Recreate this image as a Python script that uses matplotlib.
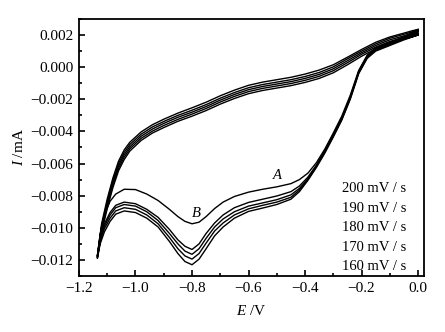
import matplotlib
matplotlib.use("Agg")
import matplotlib.pyplot as plt
from matplotlib.ticker import MultipleLocator, FuncFormatter

plt.rcParams['font.family'] = ['Liberation Serif', 'DejaVu Serif']
plt.rcParams['mathtext.fontset'] = 'custom'
plt.rcParams['mathtext.rm'] = 'Liberation Serif'
plt.rcParams['mathtext.it'] = 'Liberation Serif:italic'

# ---- data (current in 1e-3 mA) ----
rates = ["200 mV / s", "190 mV / s", "180 mV / s", "170 mV / s", "160 mV / s"]

# cathodic (forward) sweep, 0 -> -1.135 V
xc = [0.0, -0.05, -0.10, -0.15, -0.18, -0.21, -0.24, -0.27, -0.30, -0.33, -0.36, -0.39,
      -0.42, -0.45, -0.50, -0.55, -0.60, -0.65, -0.69, -0.72, -0.75, -0.775, -0.80, -0.825,
      -0.85, -0.88, -0.92, -0.96, -1.00, -1.04, -1.07, -1.09, -1.11, -1.125, -1.135]
c200 = [2.35, 1.9, 1.55, 1.2, 0.75, -0.2, -1.75, -3.05, -4.1, -5.1, -5.95, -6.6, -7.0, -7.25,
        -7.45, -7.6, -7.78, -8.05, -8.4, -8.8, -9.3, -9.65, -9.75, -9.6, -9.3, -8.85, -8.3,
        -7.9, -7.62, -7.6, -7.9, -8.35, -9.2, -10.4, -11.75]
c190 = [2.3, 1.85, 1.5, 1.15, 0.7, -0.25, -1.85, -3.15, -4.2, -5.2, -6.1, -6.85, -7.4, -7.75,
        -8.02, -8.22, -8.42, -8.75, -9.2, -9.7, -10.35, -11.0, -11.35, -11.15, -10.75, -10.1,
        -9.35, -8.85, -8.5, -8.4, -8.6, -9.05, -9.75, -10.6, -11.78]
c180 = [2.2, 1.8, 1.45, 1.1, 0.65, -0.3, -1.9, -3.2, -4.25, -5.25, -6.15, -6.95, -7.55, -7.95,
        -8.25, -8.45, -8.65, -9.0, -9.45, -9.95, -10.65, -11.3, -11.65, -11.45, -11.0, -10.35,
        -9.55, -9.0, -8.65, -8.55, -8.75, -9.2, -9.9, -10.7, -11.8]
c170 = [2.1, 1.75, 1.4, 1.05, 0.6, -0.35, -1.95, -3.25, -4.3, -5.3, -6.2, -7.0, -7.65, -8.1,
        -8.4, -8.6, -8.82, -9.2, -9.7, -10.2, -10.95, -11.6, -11.95, -11.75, -11.3, -10.6,
        -9.75, -9.2, -8.85, -8.75, -8.95, -9.4, -10.05, -10.85, -11.85]
c160 = [2.0, 1.7, 1.35, 1.0, 0.55, -0.4, -2.0, -3.3, -4.35, -5.35, -6.25, -7.05, -7.75, -8.22,
        -8.55, -8.77, -8.98, -9.4, -9.95, -10.5, -11.3, -11.95, -12.3, -12.1, -11.6, -10.85,
        -9.95, -9.4, -9.05, -8.95, -9.15, -9.6, -10.25, -11.0, -11.9]

# anodic (reverse) sweep, -1.135 -> 0 V
xa = [-1.135, -1.12, -1.10, -1.08, -1.06, -1.04, -1.02, -0.98, -0.94, -0.90, -0.85, -0.80,
      -0.75, -0.70, -0.65, -0.60, -0.55, -0.50, -0.45, -0.40, -0.35, -0.30, -0.25, -0.20,
      -0.15, -0.10, -0.05, -0.02, 0.0]
a200 = [-11.75, -9.75, -8.2, -6.9, -5.85, -5.15, -4.67, -4.03, -3.58, -3.24, -2.86, -2.53,
        -2.18, -1.78, -1.43, -1.13, -0.93, -0.78, -0.63, -0.43, -0.18, 0.15, 0.62, 1.1, 1.55,
        1.88, 2.12, 2.27, 2.35]
a190 = [-11.78, -9.88, -8.35, -7.05, -6.0, -5.3, -4.81, -4.17, -3.72, -3.38, -3.0, -2.68,
        -2.33, -1.93, -1.58, -1.28, -1.08, -0.93, -0.78, -0.58, -0.33, 0.02, 0.52, 1.0, 1.45,
        1.8, 2.05, 2.2, 2.3]
a180 = [-11.8, -10.0, -8.5, -7.2, -6.15, -5.45, -4.95, -4.3, -3.85, -3.5, -3.12, -2.8,
        -2.45, -2.05, -1.7, -1.4, -1.2, -1.05, -0.9, -0.7, -0.45, -0.1, 0.4, 0.9, 1.35, 1.7,
        1.95, 2.1, 2.2]
a170 = [-11.85, -10.15, -8.65, -7.35, -6.3, -5.6, -5.08, -4.43, -3.98, -3.63, -3.25, -2.92,
        -2.57, -2.17, -1.82, -1.52, -1.32, -1.17, -1.02, -0.82, -0.57, -0.22, 0.28, 0.8, 1.25,
        1.6, 1.85, 2.0, 2.1]
a160 = [-11.9, -10.3, -8.8, -7.5, -6.45, -5.75, -5.22, -4.56, -4.1, -3.76, -3.37, -3.05,
        -2.7, -2.3, -1.95, -1.65, -1.45, -1.3, -1.15, -0.95, -0.7, -0.35, 0.15, 0.68, 1.15,
        1.5, 1.75, 1.9, 2.0]

cathodic = [c200, c190, c180, c170, c160]
anodic = [a200, a190, a180, a170, a160]

fig = plt.figure(figsize=(4.45, 3.32), dpi=100)
ax = fig.add_axes([0.1775, 0.1687, 0.7753, 0.7741])

for cy, ay in zip(cathodic, anodic):
    xs = xc + xa
    ys = [v * 1e-3 for v in cy + ay]
    ax.plot(xs, ys, color='black', lw=1.0, solid_joinstyle='round')

ax.set_xlim(-1.2, 0.021)
ax.set_ylim(-0.013, 0.003)
ax.xaxis.set_major_locator(MultipleLocator(0.2))
ax.xaxis.set_minor_locator(MultipleLocator(0.1))
ax.yaxis.set_major_locator(MultipleLocator(0.002))
ax.yaxis.set_minor_locator(MultipleLocator(0.001))
ax.xaxis.set_major_formatter(FuncFormatter(lambda v, p: f"{v:.1f}".replace('-', '\u2212')
                                           if abs(v) > 1e-9 else "0.0"))
ax.yaxis.set_major_formatter(FuncFormatter(lambda v, p: f"{v:.3f}".replace('-', '\u2212')
                                           if abs(v) > 1e-9 else "0.000"))
ax.tick_params(which='both', direction='in', top=False, right=False, labelsize=11,
               width=1.2, pad=4)
ax.tick_params(which='major', length=4)
ax.tick_params(which='minor', length=2.5)
for s in ax.spines.values():
    s.set_linewidth(1.3)

ax.set_xlabel(r"$E$ /V", fontsize=11, labelpad=7)
ax.set_ylabel(r"$I$ /mA", fontsize=11, labelpad=3)

ax.text(-0.50, -0.00675, "A", fontsize=10.5, style='italic', ha='center', va='center')
ax.text(-0.785, -0.0091, "B", fontsize=10.5, style='italic', ha='center', va='center')

label_y = [-0.00756, -0.0088, -0.0100, -0.0112, -0.0124]
for lab, yy in zip(rates, label_y):
    ax.text(-0.27, yy, lab, fontsize=10.5, ha='left', va='center')

fig.savefig("out.png", dpi=100)
